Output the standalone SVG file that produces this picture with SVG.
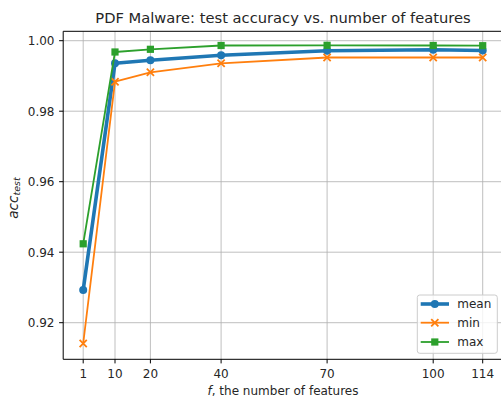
<svg xmlns="http://www.w3.org/2000/svg" width="501" height="398" viewBox="0 0 501 398">
  <style>
    text { font-family: "DejaVu Sans", "Liberation Sans", sans-serif; fill: #262626; }
    .tick { font-size: 12px; }
    .title { font-size: 14.7px; }
    .grid line { stroke: #b0b0b0; stroke-width: 0.95; stroke-opacity: 0.85; }
    .spine { stroke: #000; stroke-width: 1; fill: none; }
    .tk line { stroke: #000; stroke-width: 1; }
    .mean { stroke: #1f77b4; stroke-width: 3.6; fill: none; stroke-linejoin: round; }
    .min { stroke: #ff7f0e; stroke-width: 1.8; fill: none; stroke-linejoin: round; }
    .max { stroke: #2ca02c; stroke-width: 1.8; fill: none; stroke-linejoin: round; }
  </style>
  <defs>
    <marker id="mCircle" markerUnits="userSpaceOnUse" markerWidth="12" markerHeight="12" refX="6" refY="6" overflow="visible">
      <circle cx="6" cy="6" r="4" fill="#1f77b4"/>
    </marker>
    <marker id="mCross" markerUnits="userSpaceOnUse" markerWidth="12" markerHeight="12" refX="6" refY="6" overflow="visible">
      <path d="M2.4,2.4 L9.6,9.6 M2.4,9.6 L9.6,2.4" stroke="#ff7f0e" stroke-width="1.8" fill="none"/>
    </marker>
    <marker id="mSquare" markerUnits="userSpaceOnUse" markerWidth="12" markerHeight="12" refX="6" refY="6" overflow="visible">
      <rect x="2.4" y="2.4" width="7.2" height="7.2" fill="#2ca02c"/>
    </marker>
  </defs>

  <rect width="501" height="398" fill="#ffffff"/>

  <!-- title -->
  <text class="title" x="283" y="22.7" text-anchor="middle">PDF Malware: test accuracy vs. number of features</text>

  <!-- grid -->
  <g class="grid" id="grid">
    <line x1="83.2" y1="31.3" x2="83.2" y2="359.3"/>
    <line x1="115" y1="31.3" x2="115" y2="359.3"/>
    <line x1="150.4" y1="31.3" x2="150.4" y2="359.3"/>
    <line x1="221.1" y1="31.3" x2="221.1" y2="359.3"/>
    <line x1="327.1" y1="31.3" x2="327.1" y2="359.3"/>
    <line x1="433.2" y1="31.3" x2="433.2" y2="359.3"/>
    <line x1="482.7" y1="31.3" x2="482.7" y2="359.3"/>
    <line x1="63.2" y1="40.7" x2="503" y2="40.7"/>
    <line x1="63.2" y1="111.2" x2="503" y2="111.2"/>
    <line x1="63.2" y1="181.7" x2="503" y2="181.7"/>
    <line x1="63.2" y1="252.2" x2="503" y2="252.2"/>
    <line x1="63.2" y1="322.7" x2="503" y2="322.7"/>
  </g>

  <!-- data series -->
  <g id="series">
    <polyline id="line-mean" class="mean" marker-start="url(#mCircle)" marker-mid="url(#mCircle)" marker-end="url(#mCircle)"
      points="83.2,290 115,63.3 150.4,60.3 221.1,55.3 327.1,50.7 433.2,49.7 482.7,50.5"/>
    <polyline id="line-min" class="min" marker-start="url(#mCross)" marker-mid="url(#mCross)" marker-end="url(#mCross)"
      points="83.2,343.5 115,81.7 150.4,72.3 221.1,63.3 327.1,57.5 433.2,57.5 482.7,57.5"/>
    <polyline id="line-max" class="max" marker-start="url(#mSquare)" marker-mid="url(#mSquare)" marker-end="url(#mSquare)"
      points="83.2,243.8 115,52 150.4,49.3 221.1,45.5 327.1,45.3 433.2,45.5 482.7,45.7"/>
  </g>

  <!-- axes frame -->
  <g id="spines">
    <line class="spine" x1="63.2" y1="31.3" x2="63.2" y2="359.3"/>
    <line class="spine" x1="63.2" y1="359.3" x2="503" y2="359.3"/>
    <line class="spine" x1="63.2" y1="31.3" x2="503" y2="31.3"/>
  </g>

  <!-- x ticks -->
  <g id="xticks" class="tk">
    <line x1="83.2" y1="359.3" x2="83.2" y2="363.4"/>
    <line x1="115" y1="359.3" x2="115" y2="363.4"/>
    <line x1="150.4" y1="359.3" x2="150.4" y2="363.4"/>
    <line x1="221.1" y1="359.3" x2="221.1" y2="363.4"/>
    <line x1="327.1" y1="359.3" x2="327.1" y2="363.4"/>
    <line x1="433.2" y1="359.3" x2="433.2" y2="363.4"/>
    <line x1="482.7" y1="359.3" x2="482.7" y2="363.4"/>
    <text class="tick" x="83.2" y="377.8" text-anchor="middle">1</text>
    <text class="tick" x="115" y="377.8" text-anchor="middle">10</text>
    <text class="tick" x="150.4" y="377.8" text-anchor="middle">20</text>
    <text class="tick" x="221.1" y="377.8" text-anchor="middle">40</text>
    <text class="tick" x="327.1" y="377.8" text-anchor="middle">70</text>
    <text class="tick" x="433.2" y="377.8" text-anchor="middle">100</text>
    <text class="tick" x="482.7" y="377.8" text-anchor="middle">114</text>
  </g>

  <!-- y ticks -->
  <g id="yticks" class="tk">
    <line x1="59.1" y1="40.7" x2="63.2" y2="40.7"/>
    <line x1="59.1" y1="111.2" x2="63.2" y2="111.2"/>
    <line x1="59.1" y1="181.7" x2="63.2" y2="181.7"/>
    <line x1="59.1" y1="252.2" x2="63.2" y2="252.2"/>
    <line x1="59.1" y1="322.7" x2="63.2" y2="322.7"/>
    <text class="tick" x="54.5" y="45" text-anchor="end">1.00</text>
    <text class="tick" x="54.5" y="115.5" text-anchor="end">0.98</text>
    <text class="tick" x="54.5" y="186" text-anchor="end">0.96</text>
    <text class="tick" x="54.5" y="256.5" text-anchor="end">0.94</text>
    <text class="tick" x="54.5" y="327" text-anchor="end">0.92</text>
  </g>

  <!-- axis labels -->
  <text class="tick" x="283" y="394.5" text-anchor="middle"><tspan font-style="italic">f</tspan>, the number of features</text>
  <text transform="translate(17.5,198) rotate(-90)" text-anchor="middle" font-size="13.5px"><tspan font-style="italic">acc</tspan><tspan font-style="italic" font-size="9.5px" dy="2.8">test</tspan></text>

  <!-- legend -->
  <g id="legend">
    <rect x="417.3" y="295" width="80" height="58.3" rx="2.5" ry="2.5" fill="#ffffff" fill-opacity="0.8" stroke="#cccccc" stroke-width="1"/>
    <polyline class="mean" points="420.7,304 434.8,304 449,304" marker-mid="url(#mCircle)"/>
    <text class="tick" x="457.3" y="308.3">mean</text>
    <polyline class="min" points="420.7,322.7 434.8,322.7 449,322.7" marker-mid="url(#mCross)"/>
    <text class="tick" x="457.3" y="327">min</text>
    <polyline class="max" points="420.7,342 434.8,342 449,342" marker-mid="url(#mSquare)"/>
    <text class="tick" x="457.3" y="346.3">max</text>
  </g>
</svg>
